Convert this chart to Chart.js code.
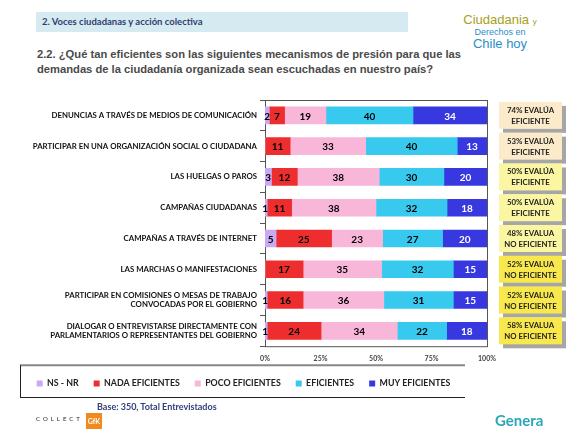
<!DOCTYPE html>
<html>
<head>
<meta charset="utf-8">
<script src="https://cdn.jsdelivr.net/npm/chart.js@4.4.1/dist/chart.umd.min.js"></script>
<style>
  body { margin: 0; width: 580px; height: 442px; background: #fff; position: relative; overflow: hidden; font-family: Lato, "Open Sans", sans-serif; }
  #wrap { position: absolute; left: 0; top: 0; width: 580px; height: 442px; }
  .hdr { position: absolute; left: 36px; top: 12px; width: 372px; height: 20px; background: #d6eaf2; }
  .hdr span { position: absolute; left: 6px; top: 4px; font-size: 9.5px; font-weight: bold; color: #2f3f6e; }
  .title { position: absolute; left: 37px; top: 47px; font-family: "Liberation Sans", Arial, sans-serif; font-weight: bold; font-size: 11.2px; line-height: 15px; color: #4a4a4a; }
  .base { position: absolute; left: 97px; top: 401px; font-size: 9px; font-weight: bold; color: #2f3f7a; }
  .logo1 { position: absolute; left: 440px; top: 14px; width: 120px; text-align: center; font-family: "Liberation Sans", sans-serif; line-height: 11px; }
  .logo2 { position: absolute; left: 36px; top: 415px; font-size: 6px; letter-spacing: 3px; color: #223; }
  .gfk { position: absolute; left: 86px; top: 413px; width: 16px; height: 16px; background: #f08a1e; color: #fff; font-size: 7px; font-weight: bold; text-align: center; line-height: 16px; }
  .logo3 { position: absolute; left: 495px; top: 411px; font-weight: bold; font-size: 15px; color: #2aa7b9; }
</style>
</head>
<body>
<div class="hdr"><span>2. Voces ciudadanas y acción colectiva</span></div>
<div class="logo1">
  <div style="font-size:13px;color:#a8a020;">Ciudadania <span style="font-size:8px">y</span></div>
  <div style="font-size:9px;color:#2a8fc8;">Derechos en</div>
  <div style="font-size:13px;color:#2a8fc8;">Chile hoy</div>
</div>
<div class="title">2.2. ¿Qué tan eficientes son las siguientes mecanismos de presión para que las<br>demandas de la ciudadanía organizada sean escuchadas en nuestro país?</div>
<div id="wrap"><canvas id="chart" width="580" height="442"></canvas></div>
<div class="base">Base: 350, Total Entrevistados</div>
<div class="logo2">COLLECT</div>
<div class="gfk">GfK</div>
<div class="logo3">Genera</div>

<script>
// ================== DATOS ==================
const categories = [
  'DENUNCIAS A TRAVÉS DE MEDIOS DE COMUNICACIÓN',
  'PARTICIPAR EN UNA ORGANIZACIÓN SOCIAL O CIUDADANA',
  'LAS HUELGAS O PAROS',
  'CAMPAÑAS CIUDADANAS',
  'CAMPAÑAS A TRAVÉS DE INTERNET',
  'LAS MARCHAS O MANIFESTACIONES',
  ['PARTICIPAR EN COMISIONES O MESAS DE TRABAJO', 'CONVOCADAS POR EL GOBIERNO'],
  ['DIALOGAR O ENTREVISTARSE DIRECTAMENTE CON', 'PARLAMENTARIOS O REPRESENTANTES DEL GOBIERNO']
];
const seriesNames = ['NS - NR', 'NADA EFICIENTES', 'POCO EFICIENTES', 'EFICIENTES', 'MUY EFICIENTES'];
const nsNr      = [2, 0, 3, 1, 5, 0, 1, 1];
const nada      = [7, 11, 12, 11, 25, 17, 16, 24];
const poco      = [19, 33, 38, 38, 23, 35, 36, 34];
const eficiente = [40, 40, 30, 32, 27, 32, 31, 22];
const muy       = [34, 13, 20, 18, 20, 15, 15, 18];
const xTicks = [0, 25, 50, 75, 100];
const resumenPct = [74, 53, 50, 50, 48, 52, 52, 58];
const resumenTxt = ['EVALÚA|EFICIENTE', 'EVALÚA|EFICIENTE', 'EVALÚA|EFICIENTE', 'EVALÚA|EFICIENTE',
                    'EVALUA|NO EFICIENTE', 'EVALUA|NO EFICIENTE', 'EVALUA|NO EFICIENTE', 'EVALUA|NO EFICIENTE'];

const colors = ['#c9a9f2', '#ee2e2e', '#f8b6d8', '#38c9ee', '#3838e0'];
const labelColors = ['#000', '#000', '#000', '#000', '#fff'];
const boxColors = ['#fbebcb', '#fbebcb', '#fbf6a2', '#fbf6a2', '#fbf6a2', '#f8e84c', '#f8e84c', '#f8e84c'];

// barras al 100% (las filas no siempre suman 100)
const raw = [nsNr, nada, poco, eficiente, muy];
const totals = categories.map((_, i) => raw.reduce((s, arr) => s + arr[i], 0));
const datasets = raw.map((arr, k) => ({
  label: seriesNames[k],
  data: arr.map((v, i) => v * 100 / totals[i]),
  rawValues: arr,
  backgroundColor: colors[k],
  borderWidth: 0,
  barThickness: 17
}));

const FONT = 'Lato, "Open Sans", sans-serif';

// ================== PLUGINS ==================
const frameAndLabels = {
  id: 'frameAndLabels',
  beforeDatasetsDraw(chart) {
    const { ctx, chartArea: a } = chart;
    ctx.save();
    ctx.strokeStyle = '#555';
    ctx.lineWidth = 1;
    ctx.strokeRect(a.left + 0.5, a.top + 0.5, a.right - a.left, a.bottom - a.top);
    ctx.restore();
  },
  afterDatasetsDraw(chart) {
    const { ctx } = chart;
    ctx.save();
    ctx.font = 'bold 10px ' + FONT;
    ctx.textAlign = 'center';
    ctx.textBaseline = 'middle';
    chart.data.datasets.forEach((ds, k) => {
      chart.getDatasetMeta(k).data.forEach((bar, i) => {
        const v = ds.rawValues[i];
        if (!v) return;
        ctx.fillStyle = labelColors[k];
        let cx = (bar.x + bar.base) / 2;
        if (k === 0) cx = Math.min(cx, bar.x - 2);
        ctx.fillText(v, cx, bar.y + 1);
      });
    });

    // cuadros resumen a la derecha
    const yScale = chart.scales.y;
    const bx = 499, bw = 63, bh = 27;
    categories.forEach((_, i) => {
      const y = yScale.getPixelForValue(i);
      ctx.fillStyle = '#a6a6a6';
      ctx.fillRect(bx + 4, y - bh / 2 + 4, bw, bh);
      ctx.fillStyle = boxColors[i];
      ctx.fillRect(bx, y - bh / 2, bw, bh);
      const [l1, l2] = resumenTxt[i].split('|');
      ctx.fillStyle = '#222';
      ctx.font = 'bold 7.8px ' + FONT;
      ctx.fillText(resumenPct[i] + '% ' + l1, bx + bw / 2, y - 5);
      ctx.fillText(l2, bx + bw / 2, y + 6);
    });

    // marco de la leyenda
    const lg = chart.legend;
    ctx.strokeStyle = '#888';
    ctx.lineWidth = 2;
    ctx.beginPath(); ctx.moveTo(20, lg.top + 1); ctx.lineTo(465, lg.top + 1); ctx.stroke();
    ctx.strokeStyle = '#222';
    ctx.lineWidth = 1;
    ctx.beginPath(); ctx.moveTo(20, lg.bottom - 0.5); ctx.lineTo(465, lg.bottom - 0.5); ctx.stroke();
    ctx.beginPath(); ctx.moveTo(20.5, lg.top + 1); ctx.lineTo(20.5, lg.bottom); ctx.stroke();
    ctx.restore();
  }
};

// ================== GRÁFICO ==================
new Chart(document.getElementById('chart'), {
  type: 'bar',
  data: { labels: categories, datasets },
  plugins: [frameAndLabels],
  options: {
    indexAxis: 'y',
    responsive: false,
    animation: false,
    layout: { padding: { top: 100, right: 93, bottom: 44, left: 0 } },
    scales: {
      x: {
        stacked: true, min: 0, max: 100,
        afterBuildTicks: s => { s.ticks = xTicks.map(v => ({ value: v })); },
        afterFit: s => { s.height = 18; },
        grid: { display: false, drawTicks: false },
        border: { display: false },
        ticks: { padding: 8, color: '#444', font: { family: FONT, size: 7, weight: 'bold' }, callback: v => v + '%' }
      },
      y: {
        stacked: true,
        afterFit: s => { s.width = 265; },
        grid: { display: true, drawOnChartArea: false, offset: true, tickLength: 5, color: '#555' },
        border: { display: false },
        ticks: { padding: 3, color: '#111', font: { family: FONT, size: 7.8, weight: 'bold' } }
      }
    },
    plugins: {
      tooltip: { enabled: false },
      legend: {
        position: 'bottom',
        labels: {
          boxWidth: 6, boxHeight: 6, padding: 15,
          color: '#222',
          font: { family: FONT, size: 8.8, weight: 'bold' }
        }
      }
    }
  }
});
</script>
</body>
</html>
